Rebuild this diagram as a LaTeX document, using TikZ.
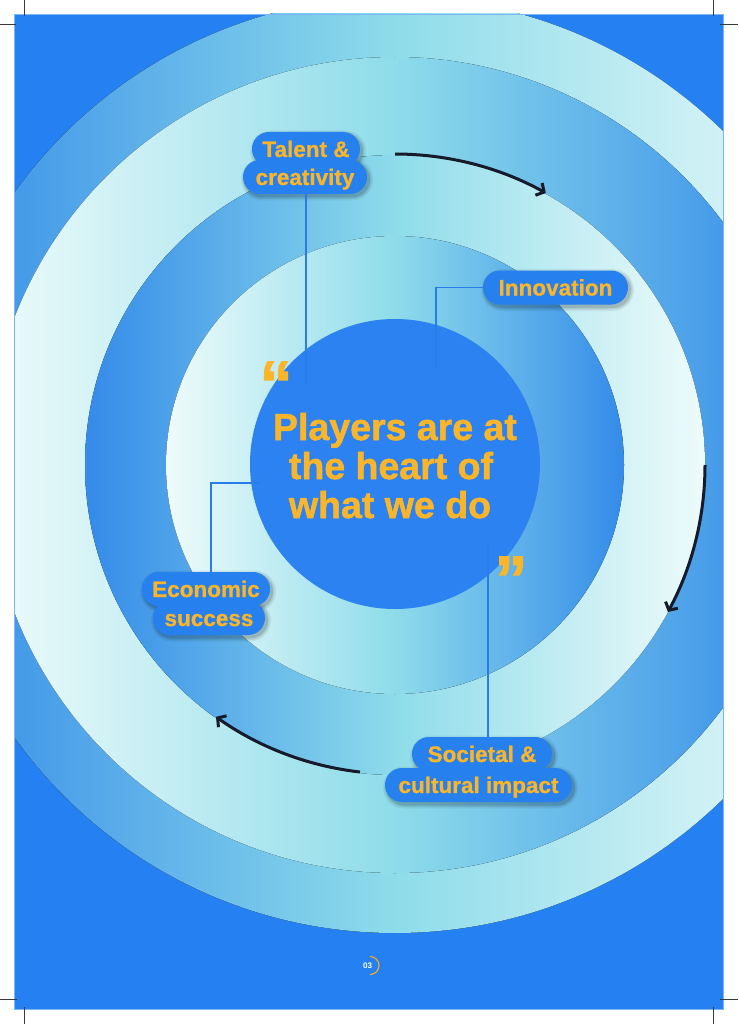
\documentclass[tikz,border=0pt]{standalone}
\usepackage{fontspec}
\setmainfont{Liberation Sans}
\newfontfamily\heavyfont{Liberation Sans}[FakeBold=1.4]
\newfontfamily\labelfont{Liberation Sans}[FakeBold=0.9]
\usetikzlibrary{arrows.meta,calc}
\definecolor{pagebg}{HTML}{2581F1}
\definecolor{ringblue}{HTML}{348BE9}
\definecolor{ringaqua}{HTML}{8EDCEA}
\definecolor{ringlight}{HTML}{EEFBFA}
\definecolor{hubblue}{HTML}{2B82F0}
\definecolor{pillblue}{HTML}{2680EE}
\definecolor{gold}{HTML}{FBB52A}
\definecolor{connblue}{HTML}{2A7CEA}
\definecolor{arrowink}{HTML}{161A2A}
\definecolor{cropgray}{HTML}{3A3A3A}
\definecolor{pageedge}{HTML}{79B8F4}
\definecolor{pnum}{HTML}{F5A623}
\tikzset{
  pill/.style={fill=pillblue, rounded corners=16.9pt, minimum height=34pt, inner sep=0pt,
    text=gold, font=\labelfont\bfseries\fontsize{22.5}{24}\selectfont, text height=16pt, text depth=0pt},
  titleline/.style={text=gold, font=\heavyfont\bfseries\fontsize{37.5}{39}\selectfont, inner sep=0pt, anchor=base},
  quotemark/.style={text=gold, font=\heavyfont\bfseries\fontsize{66}{70}\selectfont, inner sep=0pt, anchor=base west},
  conn/.style={draw=connblue, line width=1.8pt},
  cyc/.style={draw=arrowink, line width=3pt, -{Straight Barb[length=6pt,width=14pt]}},
  cropmark/.style={draw=cropgray, line width=0.8pt},
  ringlr/.style={left color=ringlight, right color=ringblue, middle color=ringaqua},
  ringrl/.style={left color=ringblue, right color=ringlight, middle color=ringaqua},
}
\newcommand\pillshade[3]{%
  \foreach \e/\o in {4/0.06,2.5/0.08,1/0.12}{%
    \fill[black, opacity=\o, rounded corners={17+\e}] ({#1-#3/2-\e+2},{-#2-17-\e-2.5}) rectangle ++({#3+2*\e},{34+2*\e});
  }}
\begin{document}
\begin{tikzpicture}[x=1pt,y=1pt]
\useasboundingbox (0,0) rectangle (738,-1024);
\fill[white] (0,0) rectangle (738,-1024);
% page
\fill[pagebg] (14,-14) rectangle (723,-1009);
\begin{scope}
  \clip (14,-14) rectangle (723,-1009);
  \coordinate (C) at (395,-465);
  \fill[ringrl] (C) circle (468);
  \fill[ringlr] (C) circle (408);
  \fill[ringrl] (C) circle (310);
  \fill[ringlr] (C) circle (229);
  \fill[hubblue] (395,-464) circle (145);
  % cycle arrows
  \draw[cyc] ($(C)+(90:311)$) arc[start angle=90, end angle=61, radius=311];
  \draw[cyc] ($(C)+(0:310)$) arc[start angle=0, end angle=-28.3, radius=310];
  \draw[cyc] ($(C)+(263.5:309)$) arc[start angle=263.5, end angle=234.6, radius=309];
\end{scope}
\draw[pageedge, line width=0.8pt] (14,-14) rectangle (723,-1009);
% crop marks
\draw[cropmark] (24,0) -- (24,-16);
\draw[cropmark] (0,-24) -- (16,-24);
\draw[cropmark] (713,0) -- (713,-16);
\draw[cropmark] (720,-24) -- (738,-24);
\draw[cropmark] (0,-999) -- (17,-999);
\draw[cropmark] (24,-1007) -- (24,-1024);
\draw[cropmark] (720,-999) -- (738,-999);
\draw[cropmark] (713,-1007) -- (713,-1024);
% connector end points
\coordinate (tEnd) at (306,-385);
\coordinate (iEnd) at (436,-367);
\coordinate (eBend) at (211,-483);
\coordinate (eEnd) at (260,-483);
\coordinate (sEnd) at (488,-542);
% pill shadows
\pillshade{306}{149}{108}
\pillshade{305}{177}{124}
\pillshade{555.5}{287.5}{145}
\pillshade{206}{589}{128}
\pillshade{209}{618}{112}
\pillshade{482}{754}{140}
\pillshade{478.5}{785}{187}
% pills
\node[pill, minimum width=108pt] (tal1) at (306,-149) {Talent \&};
\node[pill, minimum width=124pt] (tal2) at (305,-177) {creativity};
\node[pill, minimum width=145pt] (inno) at (555.5,-287.5) {Innovation};
\node[pill, minimum width=128pt] (eco1) at (206,-589) {Economic};
\node[pill, minimum width=112pt] (eco2) at (209,-618) {success};
\node[pill, minimum width=140pt] (soc1) at (482,-754) {Societal \&};
\node[pill, minimum width=187pt] (soc2) at (478.5,-785) {cultural impact};
\draw[conn] (tal2.south -| tEnd) -- (tEnd);
\draw[conn] (inno.west) -| (iEnd);
\draw[conn] (eco1.north -| eBend) -- (eBend) -- (eEnd);
\draw[conn] (soc1.north -| sEnd) -- (sEnd);
% title
\node[titleline] (t1) at (395,-440) {Players are at};
\node[titleline] (t2) at (391,-479) {the heart of};
\node[titleline] (t3) at (390,-518) {what we do};
\node[quotemark] (q1) at (259.4,-407) {“};
\node[quotemark] (q2) at (494.4,-602) {”};
% page number
\node[text=white, font=\bfseries\fontsize{8}{8}\selectfont, inner sep=0pt] (pg) at (367.5,-965.5) {03};
\draw[pnum, line width=1.2pt] (370,-956.5) arc[start angle=90, end angle=-90, radius=9];
\end{tikzpicture}
\end{document}
